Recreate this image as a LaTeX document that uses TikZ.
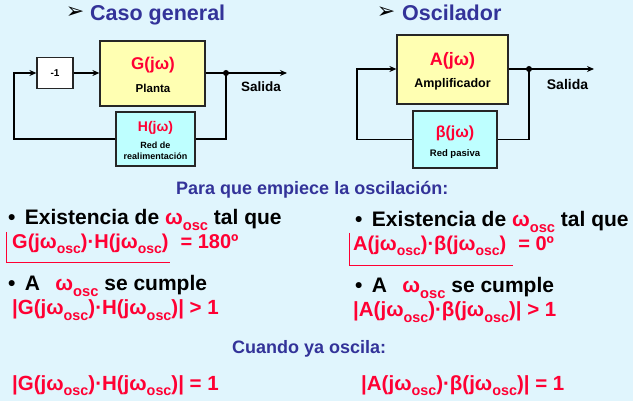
\documentclass[tikz,border=0pt]{standalone}
\usepackage{fontspec}
\usepackage{graphicx}
\setmainfont{Liberation Sans}
\newfontfamily\dejavu{DejaVu Sans}
\usetikzlibrary{arrows.meta}
\definecolor{bgc}{RGB}{224,245,253}
\definecolor{tblue}{RGB}{51,51,153}
\definecolor{myred}{RGB}{255,0,51}
\definecolor{ybox}{RGB}{255,255,178}
\definecolor{cbox}{RGB}{190,255,255}
\newcommand{\sbs}[1]{\raisebox{-0.25em}{\scalebox{0.7}{#1}}}
\newcommand{\wo}{ω\sbs{osc}}
\newcommand{\bul}{•\hspace{0.45em}}
\tikzset{
  fsz/.style={font=\fontsize{#1}{#1}\selectfont\bfseries},
  txt/.style={inner sep=0, anchor=base west},
  ctr/.style={inner sep=0, anchor=center},
  blk/.style={draw=black!85, line width=1.2pt, inner sep=0},
  wire/.style={line width=1.4pt, black},
  arr/.style={wire, -{Stealth[length=7pt,width=6pt]}},
  brk/.style={myred, line width=0.8pt},
  dotn/.style={circle, fill=black, inner sep=0, minimum size=6pt}
}
\begin{document}
\begin{tikzpicture}[x=1pt,y=-1pt]
\fill[bgc] (0,0) rectangle (633,401);
\useasboundingbox (0,0) rectangle (633,401);

% titles
\node[ctr, fsz=22] (ar1) at (75,13) {\dejavu ➢};
\node[txt, fsz=21.5, text=tblue] (t1) at (90,21) {Caso general};
\node[ctr, fsz=22] (ar2) at (386,13) {\dejavu ➢};
\node[txt, fsz=21.5, text=tblue] (t2) at (402,21) {Oscilador};

% left diagram
\node[blk, fill=white, minimum width=36pt, minimum height=31pt, fsz=10] (m1) at (55,73) {-1};
\node[blk, fill=ybox, minimum width=105pt, minimum height=65pt] (G) at (152.5,73.5) {};
\node[ctr, fsz=17, text=myred] (Gt) at (153,65) {G(jω)};
\node[ctr, fsz=11.5] (Gs) at (153,88) {Planta};
\node[blk, fill=cbox, minimum width=79pt, minimum height=54pt] (H) at (155.5,139) {};
\node[ctr, fsz=14, text=myred] (Ht) at (155.5,128) {H(jω)};
\node[ctr, fsz=9] (Hs1) at (155.5,145) {Red de};
\node[ctr, fsz=9] (Hs2) at (155.5,156) {realimentación};
\node[dotn] (d1) at (226,73) {};
\coordinate (o1) at (287,73);
\coordinate (f1) at (14,73);
\node[ctr, fsz=13.5] (s1) at (261,87) {Salida};
\draw[arr] (m1.east) -- (G.west |- m1.east);
\draw[wire] (G.east |- d1) -- (d1.center);
\draw[arr] (d1.center) -- (o1);
\draw[wire] (d1.center) |- (H.east);
\draw[arr] (H.west) -| (f1) -- (m1.west);

% right diagram
\node[blk, fill=ybox, minimum width=111pt, minimum height=69pt] (A) at (452.5,69.5) {};
\node[ctr, fsz=18, text=myred] (At) at (452.5,61) {A(jω)};
\node[ctr, fsz=12.5] (As) at (452.5,84) {Amplificador};
\node[blk, fill=cbox, minimum width=84pt, minimum height=57pt] (B) at (455,139.5) {};
\node[ctr, fsz=16, text=myred] (Bt) at (455,133) {β(jω)};
\node[ctr, fsz=9.5] (Bs) at (455,154) {Red pasiva};
\node[dotn] (d2) at (529,69) {};
\coordinate (o2) at (594,69);
\coordinate (f2) at (357,69);
\node[ctr, fsz=14] (s2) at (567.5,84) {Salida};
\draw[wire] (A.east |- d2) -- (d2.center);
\draw[arr] (d2.center) -- (o2);
\draw[wire] (d2.center) |- (B.east);
\draw[arr] (B.west) -| (f2) -- (A.west |- f2);

% conditions
\node[txt, fsz=18, text=tblue] (p) at (176,195) {Para que empiece la oscilación:};

\node[txt, fsz=21] (e1) at (8,225) {\bul Existencia de {\color{myred}\wo} tal que};
\node[txt, fsz=20, text=myred] (c1) at (12,249) {G(j\wo)·H(j\wo)\hspace{0.6em}= 180º};
\node[txt, fsz=21] (e2) at (8,291) {\bul A\hspace{0.45em} {\color{myred}\wo} se cumple};
\node[txt, fsz=20.5, text=myred] (m1f) at (12,315) {|G(j\wo)·H(j\wo)| > 1};

\node[txt, fsz=21] (e3) at (355,227) {\bul Existencia de {\color{myred}\wo} tal que};
\node[txt, fsz=20, text=myred] (c2) at (353,251) {A(j\wo)·β(j\wo)\hspace{0.6em}= 0º};
\node[txt, fsz=21] (e4) at (355,293) {\bul A\hspace{0.45em} {\color{myred}\wo} se cumple};
\node[txt, fsz=20.5, text=myred] (m2f) at (353,317) {|A(j\wo)·β(j\wo)| > 1};

\coordinate (b1a) at (6,232);
\coordinate (b1b) at (170,262);
\draw[brk] (b1a) |- (b1b);
\coordinate (b2a) at (349,233);
\coordinate (b2b) at (513,265);
\draw[brk] (b2a) |- (b2b);

\node[txt, fsz=18, text=tblue] (cu) at (232,353) {Cuando ya oscila:};
\node[txt, fsz=20.5, text=myred] (f1t) at (12,390) {|G(j\wo)·H(j\wo)| = 1};
\node[txt, fsz=20.5, text=myred] (f2t) at (361,390) {|A(j\wo)·β(j\wo)| = 1};
\end{tikzpicture}
\end{document}
